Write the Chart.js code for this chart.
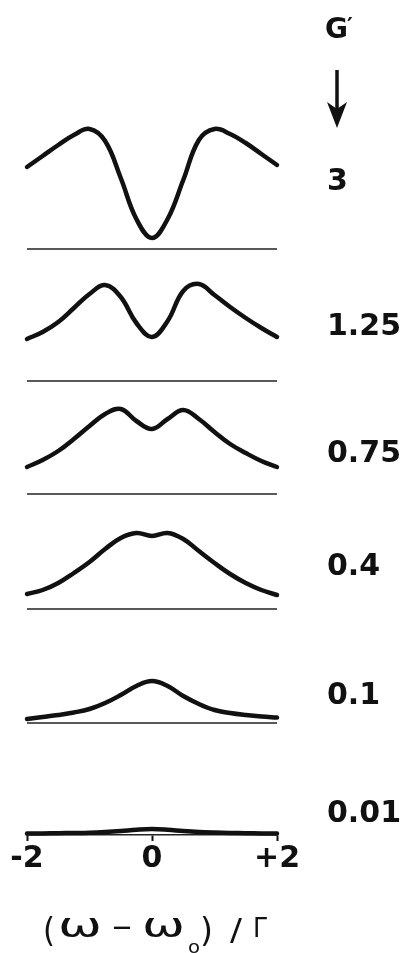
<!DOCTYPE html>
<html>
<head>
<meta charset="utf-8">
<script src="https://cdn.jsdelivr.net/npm/chart.js@4.4.1/dist/chart.umd.min.js"></script>
<style>
html, body { margin: 0; padding: 0; background: #fff; }
canvas { display: block; }
</style>
</head>
<body>
<canvas id="spectra" width="406" height="953"></canvas>
<script>
// detuning (omega - omega0) / Gamma
var detuning = [-2, -1.75, -1.5, -1.25, -1, -0.75, -0.5, -0.25, 0, 0.25, 0.5, 0.75, 1, 1.25, 1.5, 1.75, 2];
var gValues = ['3', '1.25', '0.75', '0.4', '0.1', '0.01'];
var tickValues = [-2, 0, 2];
var tickLabels = ['-2', '0', '+2'];

// spectra, arb. units above each baseline
var specG3    = [82, 93, 104, 114, 120, 108, 71, 30, 11, 30, 69, 109, 120, 115, 106, 95, 84];
var specG125  = [42, 49, 59, 73, 87, 96, 84, 58, 44, 60, 90, 97, 86, 74, 63, 53, 44];
var specG075  = [27, 34, 43, 55, 68, 80, 85, 73, 65, 75, 84, 75, 62, 50, 41, 33, 27];
var specG04   = [15, 19, 26, 36, 47, 60, 71, 76, 73, 76, 70, 58, 46, 35, 26, 19, 14];
var specG01   = [4, 6, 8, 10.5, 14, 20, 28, 37, 42, 37, 27, 19, 13, 10, 8, 6.5, 5.5];
var specG001  = [1.5, 1.6, 1.8, 2, 2.3, 3, 4, 5.3, 6, 5.3, 4, 3, 2.4, 2, 1.8, 1.6, 1.5];

var spectra = [specG3, specG125, specG075, specG04, specG01, specG001];

// layout: vertical offset of each panel baseline, label baselines in px
var panelBase = [586, 454, 341, 226, 112, 0];
var labelBaseline = [190, 335, 462, 575, 704, 822];

var datasets = [];
spectra.forEach(function (s, k) {
    datasets.push({
        data: detuning.map(function (x, i) { return { x: x, y: panelBase[k] + s[i] }; }),
        borderColor: '#111',
        borderWidth: 4.5,
        borderCapStyle: 'round',
        tension: 0.4,
        pointRadius: 0,
        clip: false
    });
    if (k < spectra.length - 1) {
        datasets.push({
            data: [{ x: -2, y: panelBase[k] }, { x: 2, y: panelBase[k] }],
            borderColor: '#222',
            borderWidth: 1.5,
            pointRadius: 0,
            clip: false
        });
    }
});

function drawFit(ctx, text, left, right, baseline, font) {
    ctx.save();
    ctx.font = font;
    ctx.textAlign = 'left';
    ctx.textBaseline = 'alphabetic';
    var w = ctx.measureText(text).width;
    ctx.translate(left, baseline);
    ctx.scale((right - left) / w, 1);
    ctx.fillText(text, 0, 0);
    ctx.restore();
}

var extras = {
    id: 'extras',
    afterDraw: function (chart) {
        var ctx = chart.ctx;
        ctx.save();
        ctx.fillStyle = '#111';
        ctx.strokeStyle = '#111';

        // G' header and arrow
        ctx.font = 'bold 28px "DejaVu Sans"';
        ctx.textBaseline = 'alphabetic';
        ctx.fillText('G', 325, 38);
        ctx.font = 'bold 22px "DejaVu Sans"';
        ctx.fillText('\u2032', 347, 33);
        ctx.lineWidth = 3.5;
        ctx.beginPath();
        ctx.moveTo(337, 70);
        ctx.lineTo(337, 112);
        ctx.stroke();
        ctx.beginPath();
        ctx.moveTo(337, 128);
        ctx.lineTo(327, 102);
        ctx.lineTo(337, 109);
        ctx.lineTo(347, 102);
        ctx.closePath();
        ctx.fill();

        // G' value for each panel
        ctx.font = 'bold 30px "DejaVu Sans"';
        gValues.forEach(function (g, k) {
            ctx.fillText(g, 327, labelBaseline[k]);
        });

        // axis title (w - w0) / Gamma
        drawFit(ctx, '(', 43, 55, 942, '34px "DejaVu Sans"');
        drawFit(ctx, '\u03c9', 58, 102, 937, '34px "DejaVu Sans"');
        drawFit(ctx, '\u2013', 112, 132, 937, '34px "DejaVu Sans"');
        drawFit(ctx, '\u03c9', 142, 185, 937, '34px "DejaVu Sans"');
        drawFit(ctx, 'o', 188, 200, 953, '18px "DejaVu Sans"');
        drawFit(ctx, ')', 200, 213, 942, '34px "DejaVu Sans"');
        drawFit(ctx, '/', 230, 242, 940, '30px "DejaVu Sans"');
        drawFit(ctx, '\u0393', 253, 267, 937, '26px "DejaVu Sans"');
        ctx.restore();
    }
};

var ctx = document.getElementById('spectra').getContext('2d');
var spectraChart = new Chart(ctx, {
    type: 'line',
    data: { datasets: datasets },
    options: {
        responsive: false,
        animation: false,
        devicePixelRatio: 1,
        layout: { padding: { top: 100, left: 27, right: 129, bottom: 76 } },
        plugins: { legend: { display: false }, tooltip: { enabled: false } },
        scales: {
            x: {
                type: 'linear',
                min: -2,
                max: 2,
                afterBuildTicks: function (axis) {
                    axis.ticks = tickValues.map(function (v) { return { value: v }; });
                },
                ticks: {
                    callback: function (v) { return tickLabels[tickValues.indexOf(v)]; },
                    font: { family: 'DejaVu Sans', size: 30, weight: 'bold' },
                    color: '#111',
                    padding: 0,
                    maxRotation: 0,
                    autoSkip: false
                },
                grid: {
                    display: true,
                    drawOnChartArea: false,
                    drawTicks: true,
                    tickLength: 6,
                    tickColor: '#111',
                    tickWidth: 2
                },
                border: { display: true, color: '#222', width: 1.5 }
            },
            y: {
                display: false,
                min: 0,
                max: 735
            }
        }
    },
    plugins: [extras]
});
</script>
</body>
</html>
